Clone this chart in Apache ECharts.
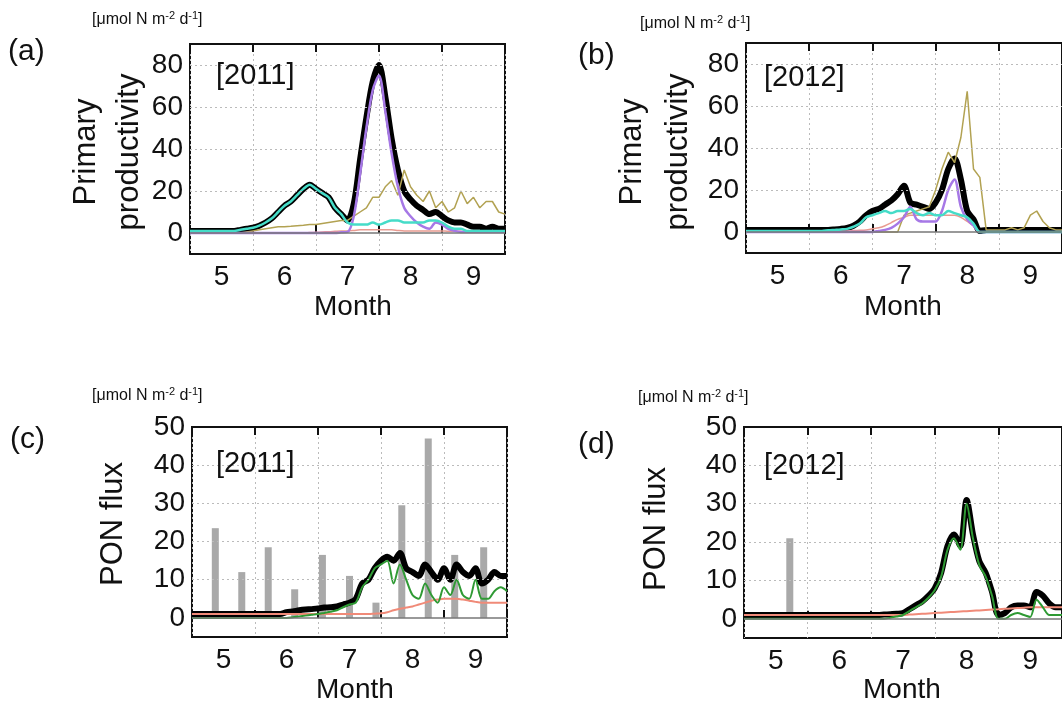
<!DOCTYPE html>
<html>
<head>
<meta charset="utf-8">
<script src="https://cdn.jsdelivr.net/npm/echarts@6/dist/echarts.min.js"></script>
<style>
  html, body { margin: 0; padding: 0; background: #fff; }
  #main { width: 1062px; height: 704px; }
</style>
</head>
<body>
<div id="main"></div>
<script>
// month position, 5.0 = 1 May ... 10.0 = 1 Oct
var xs = [5.0,5.1,5.2,5.3,5.4,5.5,5.6,5.7,5.8,5.9,6.0,6.1,6.2,6.3,6.4,6.5,6.6,6.7,6.8,6.9,
          7.0,7.1,7.2,7.3,7.4,7.5,7.6,7.7,7.8,7.9,8.0,8.1,8.2,8.3,8.4,8.5,8.6,8.7,8.8,8.9,
          9.0,9.1,9.2,9.3,9.4,9.5,9.6,9.7,9.8,9.9,10.0];
var monthLabels = ['5', '6', '7', '8', '9'];

// (a) primary productivity 2011
var ppTotal2011 = [1,1,1,1,1,1,1,1,1.5,2,2.5,3.5,5,7,10,13,15,18,21,23,
                   21,19,17,12,9,6,14,35,55,72,80,65,45,30,20,16,13,11,9,10,
                   8,6,5,5,4,3,3,2,3,2,2];
var ppTeal2011 = [1,1,1,1,1,1,1,1,1.5,2,2.5,3.5,5,7,10,13,15,18,21,23,
                  21,19,17,12,9,5,4,4,4,5,4,5,6,6,5,5,5,5,6,6,
                  5,3,2,2,1,1,1,1,1,1,1];
var ppPurple2011 = [0,0,0,0,0,0,0,0,0,0,0,0,0,0,0,0,0,0,0,0,
                    0,0,0,0,0.3,0.5,8,28,50,68,75,58,38,22,12,8,5,3,2,5,
                    4,2,1,0.5,0.5,0.5,0.5,0.5,0.5,0.5,0.5];
var ppOlive2011 = [0,0,0,0,0,0,0,0,0,0.5,1,1.5,2,2.5,3,3,3.2,3.5,3.7,4,
                   4,4.5,5,5.5,6,6,8,10,12,17,17,22,25,18,30,22,18,15,20,12,
                   15,10,12,20,14,17,12,15,15,10,9];
var ppPink2011 = [0,0,0,0,0,0,0,0,0,0,0,0,0,0,0,0,0,0,0,0.2,
                  0.3,0.5,0.6,0.8,1,1,1.2,1.5,1.5,1.5,1.5,1.5,1.5,1.2,1,1,1,1,1,1,
                  1,0.8,0.8,0.8,0.5,0.5,0.5,0.5,0.5,0.5,0.5];

// (b) primary productivity 2012
var ppTotal2012 = [1,1,1,1,1,1,1,1,1,1,1,1,1,1,1.2,1.5,2,3,5,8,
                   10,11,13,15,18,22,14,13,12,11,14,20,30,35,25,10,6,0.5,1,1,
                   1,1,1,1,1,1,1,1,1,1,1];
var ppTeal2012 = [0.5,0.5,0.5,0.5,0.5,0.5,0.5,0.5,0.5,0.5,0.5,0.5,0.5,0.8,1,1.2,1.5,2.5,4,7,
                  8,9,10,9,10,10,11,9,8,9,8,8,10,9,8,7,4,0,0,0,
                  0,0,0,0,0,0,0,0,0,0,0];
var ppPurple2012 = [0,0,0,0,0,0,0,0,0,0,0,0,0,0,0,0,0,0,0,0,
                    0,0.5,1,2,4,7,12,6,5,5,5,10,20,25,12,6,3,0,0,0,
                    0,0,0,0,0,0,0,0,0,0,0];
var ppOlive2012 = [0,0,0,0,0,0,0,0,0,0,0,0,0,0,0,0,0,0,0,0,
                   0,0,0,0,0,8,9,10,11,12,20,30,38,33,45,67,30,26,1,1,
                   1,1,2,1,2,8,10,5,2,1,1];
var ppPink2012 = [0,0,0,0,0,0,0,0,0,0,0,0,0,0,0,0.5,0.5,0.7,0.8,1,
                  1.5,2,3,4.5,6,7,8,8,8,8,8,8,8,8,7,5,3,0,0,0,
                  0,0,0,0,0,0,0,0,0,0,0];

// (c) PON flux 2011
var ponTotal2011 = [1,1,1,1,1,1,1,1,1,1,1,1,1,1,1,1.5,1.7,2,2.2,2.3,
                    2.5,2.7,2.8,3,3.5,4,5,9,10,13,15,16,15,17,13,12,11,14,12,10,
                    13,10,14,12,11,13,9,10,12,11,11];
var ponGreen2011 = [0,0,0,0,0,0,0,0,0,0,0,0,0,0,0,0,0.2,0.4,0.6,0.8,
                    1,1.3,1.6,2,2.8,3.5,4,8,10,13,14,15,9,14,10,6,5,9,6,4,
                    8,6,10,6,5,10,5,5,7,8,7];
var ponSalmon2011 = [1,1,1,1,1,1,1,1,1,1,1,1,1,1,1,1,1,1,1,1,
                     1,1,1,1,1,1,1,1,1,1.1,1.2,1.5,2,2.4,2.7,3,3.5,4,4.5,4.8,
                     5,5,5,4.8,4.5,4.2,4,4,4,4,4];
var trapX2011 = [5.37, 5.79, 6.21, 6.63, 7.07, 7.5, 7.92, 8.33, 8.75, 9.17, 9.63];
var trapY2011 = [23.5, 12, 18.5, 7.5, 16.5, 11, 4, 29.5, 47, 16.5, 18.5];

// (d) PON flux 2012
var ponTotal2012 = [1,1,1,1,1,1,1,1,1,1,1,1,1,1,1,1,1,1,1,1,
                    1,1,1.1,1.2,1.3,1.5,2.5,3.5,4.5,6,8,12,19,22,19,31,22,15,12,7,
                    1,1.5,3,3.5,3.5,3,7,6,4,3,3];
var ponGreen2012 = [0,0,0,0,0,0,0,0,0,0,0,0,0,0,0,0,0,0,0,0,
                    0,0,0,0.3,0.6,1,2,3,4,5.5,7.5,11,18,21,18,30,21,14,11,6,
                    0,0,1,1.5,1,0.5,5,3,1,1,1];
var ponSalmon2012 = [1,1,1,1,1,1,1,1,1,1,1,1,1,1,1,1,1,1,1,1,
                     1,1,1,1,1,1,1.1,1.2,1.3,1.4,1.5,1.6,1.7,1.8,1.9,2,2.1,2.2,2.3,2.4,
                     2.5,2.6,2.7,2.8,2.9,3,3,3,3,3,3];
var trapX2012 = [5.72];
var trapY2012 = [21];

var FONT = 'Liberation Sans';

function pairs(ys) {
    return xs.map(function (x, i) { return [x, ys[i]]; });
}

var chartDom = document.getElementById('main');
var myChart = echarts.init(chartDom);

// grids: a, b, c, d  (b and d run past the right edge like the reference)
var grids = [
    {left: 190, top: 44, width: 315, height: 210},
    {left: 746, top: 43, width: 325, height: 210},
    {left: 192, top: 427, width: 315, height: 210},
    {left: 744, top: 427, width: 325, height: 211}
];
var yRanges = [
    {min: -10, max: 90, step: 20, grid: [20, 40, 60, 80]},
    {min: -10, max: 90, step: 20, grid: [20, 40, 60, 80]},
    {min: -5, max: 50, step: 10, grid: [10, 20, 30, 40]},
    {min: -5, max: 50, step: 10, grid: [10, 20, 30, 40]}
];

var option = {
    backgroundColor: '#fff',
    animation: false,
    textStyle: {fontFamily: FONT},
    grid: grids.map(function (g) {
        return Object.assign({show: true, borderColor: '#111', borderWidth: 2, backgroundColor: 'transparent'}, g);
    }),
    xAxis: [],
    yAxis: [],
    series: [],
    graphic: []
};

grids.forEach(function (g, i) {
    // value axis carrying the data, ticks at month boundaries
    option.xAxis.push({
        type: 'value', gridIndex: i, min: 5, max: 10, interval: 1,
        axisLine: {show: false},
        axisTick: {show: true, inside: true, length: 8, lineStyle: {color: '#111', width: 2}},
        axisLabel: {show: false},
        splitLine: {show: true, lineStyle: {color: '#bbb', type: [2, 3], width: 1}}
    });
    // top ticks
    option.xAxis.push({
        type: 'value', gridIndex: i, min: 5, max: 10, interval: 1, position: 'top',
        axisLine: {show: false},
        axisTick: {show: true, inside: true, length: 8, lineStyle: {color: '#111', width: 2}},
        axisLabel: {show: false}, splitLine: {show: false}
    });
    // month names centred in each month
    option.xAxis.push({
        type: 'category', gridIndex: i, data: monthLabels, position: 'bottom',
        axisLine: {show: false}, axisTick: {show: false}, splitLine: {show: false},
        axisLabel: {fontSize: 28, color: '#111', margin: 9, fontFamily: FONT}
    });
    var r = yRanges[i];
    option.yAxis.push({
        type: 'value', gridIndex: i, min: r.min, max: r.max, interval: r.step / 2,
        axisLine: {show: false}, axisTick: {show: false}, splitLine: {show: false},
        axisLabel: {
            fontSize: 28, color: '#111', margin: 7, fontFamily: FONT,
            formatter: function (v) { return (v >= 0 && v % r.step === 0) ? String(v) : ''; }
        }
    });
});

function line(gi, ys, color, width, extra) {
    var s = {
        type: 'line', xAxisIndex: gi * 3, yAxisIndex: gi, data: pairs(ys),
        showSymbol: false, symbol: 'none', smooth: 0.3,
        lineStyle: {color: color, width: width}, z: 3
    };
    return Object.assign(s, extra || {});
}

function guideLines(gi) {
    var r = yRanges[gi];
    var d = r.grid.map(function (v) {
        return {yAxis: v, lineStyle: {color: '#bbb', type: [2, 3], width: 1}};
    });
    d.push({yAxis: 0, lineStyle: {color: '#777', type: 'solid', width: 1.5}});
    return {silent: true, symbol: 'none', label: {show: false}, data: d, animation: false};
}

var C_TEAL = '#45dcc8', C_PURPLE = '#a678e6', C_OLIVE = '#b2a252', C_PINK = '#e89a90',
    C_GREEN = '#2f9a34', C_SALMON = '#f08a78', C_BAR = '#a9a9a9';

// (a)
option.series.push(line(0, ppTotal2011, '#000', 6, {markLine: guideLines(0), z: 2}));
option.series.push(line(0, ppPink2011, C_PINK, 1.5));
option.series.push(line(0, ppOlive2011, C_OLIVE, 1.5, {smooth: false}));
option.series.push(line(0, ppPurple2011, C_PURPLE, 2.5));
option.series.push(line(0, ppTeal2011, C_TEAL, 2.5));
// (b)
option.series.push(line(1, ppTotal2012, '#000', 6, {markLine: guideLines(1), z: 2}));
option.series.push(line(1, ppPink2012, C_PINK, 1.5));
option.series.push(line(1, ppOlive2012, C_OLIVE, 1.5, {smooth: false}));
option.series.push(line(1, ppPurple2012, C_PURPLE, 2.5));
option.series.push(line(1, ppTeal2012, C_TEAL, 2.5));
// (c)
option.series.push({
    type: 'bar', xAxisIndex: 6, yAxisIndex: 2, barWidth: 7,
    data: trapX2011.map(function (x, i) { return [x, trapY2011[i]]; }),
    itemStyle: {color: C_BAR}, z: 1
});
option.series.push(line(2, ponTotal2011, '#000', 6, {markLine: guideLines(2), z: 2}));
option.series.push(line(2, ponSalmon2011, C_SALMON, 2));
option.series.push(line(2, ponGreen2011, C_GREEN, 2));
// (d)
option.series.push({
    type: 'bar', xAxisIndex: 9, yAxisIndex: 3, barWidth: 7,
    data: trapX2012.map(function (x, i) { return [x, trapY2012[i]]; }),
    itemStyle: {color: C_BAR}, z: 1
});
option.series.push(line(3, ponTotal2012, '#000', 6, {markLine: guideLines(3), z: 2}));
option.series.push(line(3, ponSalmon2012, C_SALMON, 2));
option.series.push(line(3, ponGreen2012, C_GREEN, 2));

// text
function txt(x, y, s, size, extra) {
    return Object.assign({
        type: 'text', x: x, y: y, z: 10,
        style: {text: s, fontSize: size, fontFamily: FONT, fill: '#111', textVerticalAlign: 'middle'}
    }, extra || {});
}
function unit(x, y) {
    return {
        type: 'text', x: x, y: y, z: 10,
        style: {
            text: '{n|[μmol N m}{s|-2}{n| d}{s|-1}{n|]}',
            fontFamily: FONT, fill: '#111', textVerticalAlign: 'middle',
            rich: {
                n: {fontSize: 16, fontFamily: FONT, fill: '#111'},
                s: {fontSize: 11, fontFamily: FONT, fill: '#111', verticalAlign: 'top', padding: [0, 0, 9, 0]}
            }
        }
    };
}
function vtxt(x, y, s, size) {
    return {
        type: 'text', x: x, y: y, rotation: Math.PI / 2, z: 10,
        style: {text: s, fontSize: size, fontFamily: FONT, fill: '#111', textAlign: 'center', textVerticalAlign: 'middle'}
    };
}

option.graphic = [
    unit(92, 20), unit(640, 24), unit(92, 396), unit(638, 398),
    txt(8, 52, '(a)', 30), txt(578, 56, '(b)', 30), txt(10, 440, '(c)', 30), txt(578, 445, '(d)', 30),
    txt(216, 76, '[2011]', 29), txt(764, 78, '[2012]', 29), txt(216, 464, '[2011]', 29), txt(764, 466, '[2012]', 29),
    txt(314, 307, 'Month', 28), txt(864, 307, 'Month', 28), txt(316, 690, 'Month', 28), txt(863, 690, 'Month', 28),
    vtxt(86, 152, 'Primary', 31), vtxt(129, 152, 'productivity', 31),
    vtxt(632, 152, 'Primary', 31), vtxt(678, 152, 'productivity', 31),
    vtxt(113, 524, 'PON flux', 31), vtxt(656, 529, 'PON flux', 31)
];

option && myChart.setOption(option);

window.addEventListener('resize', function () {
    myChart.resize();
});
</script>
</body>
</html>
